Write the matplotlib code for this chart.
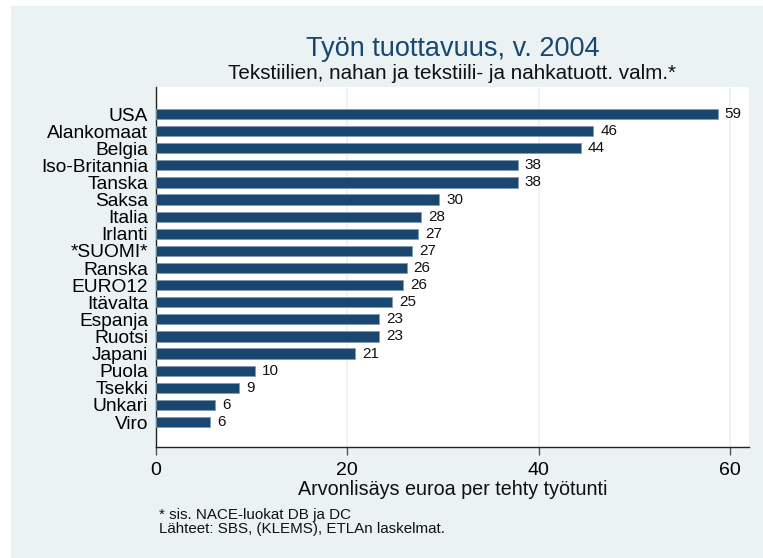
import matplotlib
matplotlib.use("Agg")
import matplotlib.pyplot as plt
from matplotlib.patches import Rectangle

plt.rcParams['font.family'] = ['Liberation Sans', 'DejaVu Sans']

# data
countries = ["USA", "Alankomaat", "Belgia", "Iso-Britannia", "Tanska", "Saksa",
             "Italia", "Irlanti", "*SUOMI*", "Ranska", "EURO12", "Itävalta",
             "Espanja", "Ruotsi", "Japani", "Puola", "Tsekki", "Unkari", "Viro"]
values = [58.7, 45.7, 44.4, 37.8, 37.8, 29.6, 27.7, 27.4, 26.8, 26.2, 25.8,
          24.7, 23.3, 23.3, 20.8, 10.4, 8.7, 6.2, 5.7]
xticks = [0, 20, 40, 60]

title = "Työn tuottavuus, v. 2004"
subtitle = "Tekstiilien, nahan ja tekstiili- ja nahkatuott. valm.*"
xlabel = "Arvonlisäys euroa per tehty työtunti"
notes = ["* sis. NACE-luokat DB ja DC", "Lähteet: SBS, (KLEMS), ETLAn laskelmat."]

navy = "#1a476f"
bg = "#eaf2f3"

fig = plt.figure(figsize=(7.63, 5.58), dpi=100)
fig.patch.set_facecolor("white")
fig.patches.append(Rectangle((11 / 763, 0), 1, 1 - 6 / 558, transform=fig.transFigure,
                             facecolor=bg, edgecolor="none", zorder=-10))

ax = fig.add_axes([155.8 / 763, 1 - 447 / 558, (749 - 155.8) / 763, (447 - 87) / 558])
ax.set_facecolor("white")

pos = list(range(len(countries)))
ax.barh(pos, values, height=0.6, color=navy, edgecolor="#7f9bb3", linewidth=0.6, zorder=3)
for p, v in zip(pos, values):
    ax.annotate("%.0f" % v, (v, p), xytext=(5, 0), textcoords="offset points",
                va="center", ha="left", fontsize=11, color="#111111")

ax.set_xlim(0, 61.95)
ax.set_ylim(len(countries) - 1 + 1.46, -1.58)
ax.set_yticks(pos)
ax.set_yticklabels(countries, fontsize=13.8)
ax.set_xticks(xticks)
ax.set_xticklabels([str(t) for t in xticks], fontsize=14)
ax.tick_params(axis="y", length=0, pad=5.5)
ax.tick_params(axis="x", length=6, width=1, color="#555555", pad=4.5)
ax.xaxis.grid(True, color=bg, linewidth=1.2, zorder=0)
ax.set_axisbelow(True)
for s in ["top", "right"]:
    ax.spines[s].set_visible(False)
for s in ["left", "bottom"]:
    ax.spines[s].set_color("#222222")
    ax.spines[s].set_linewidth(1)

xc = (155.8 + 749) / 2 / 763
fig.text(xc, 1 - 56 / 558, title, ha="center", va="baseline", fontsize=19.5, color=navy)
fig.text(xc, 1 - 79 / 558, subtitle, ha="center", va="baseline", fontsize=14.9, color="#111111")
fig.text(xc, 1 - 495 / 558, xlabel, ha="center", va="baseline", fontsize=14.2, color="#111111")
fig.text(159 / 763, 1 - 519 / 558, notes[0], ha="left", va="baseline", fontsize=10.9, color="#111111")
fig.text(159 / 763, 1 - 533 / 558, notes[1], ha="left", va="baseline", fontsize=10.9, color="#111111")

fig.savefig("out.png", dpi=100, facecolor=fig.get_facecolor())
